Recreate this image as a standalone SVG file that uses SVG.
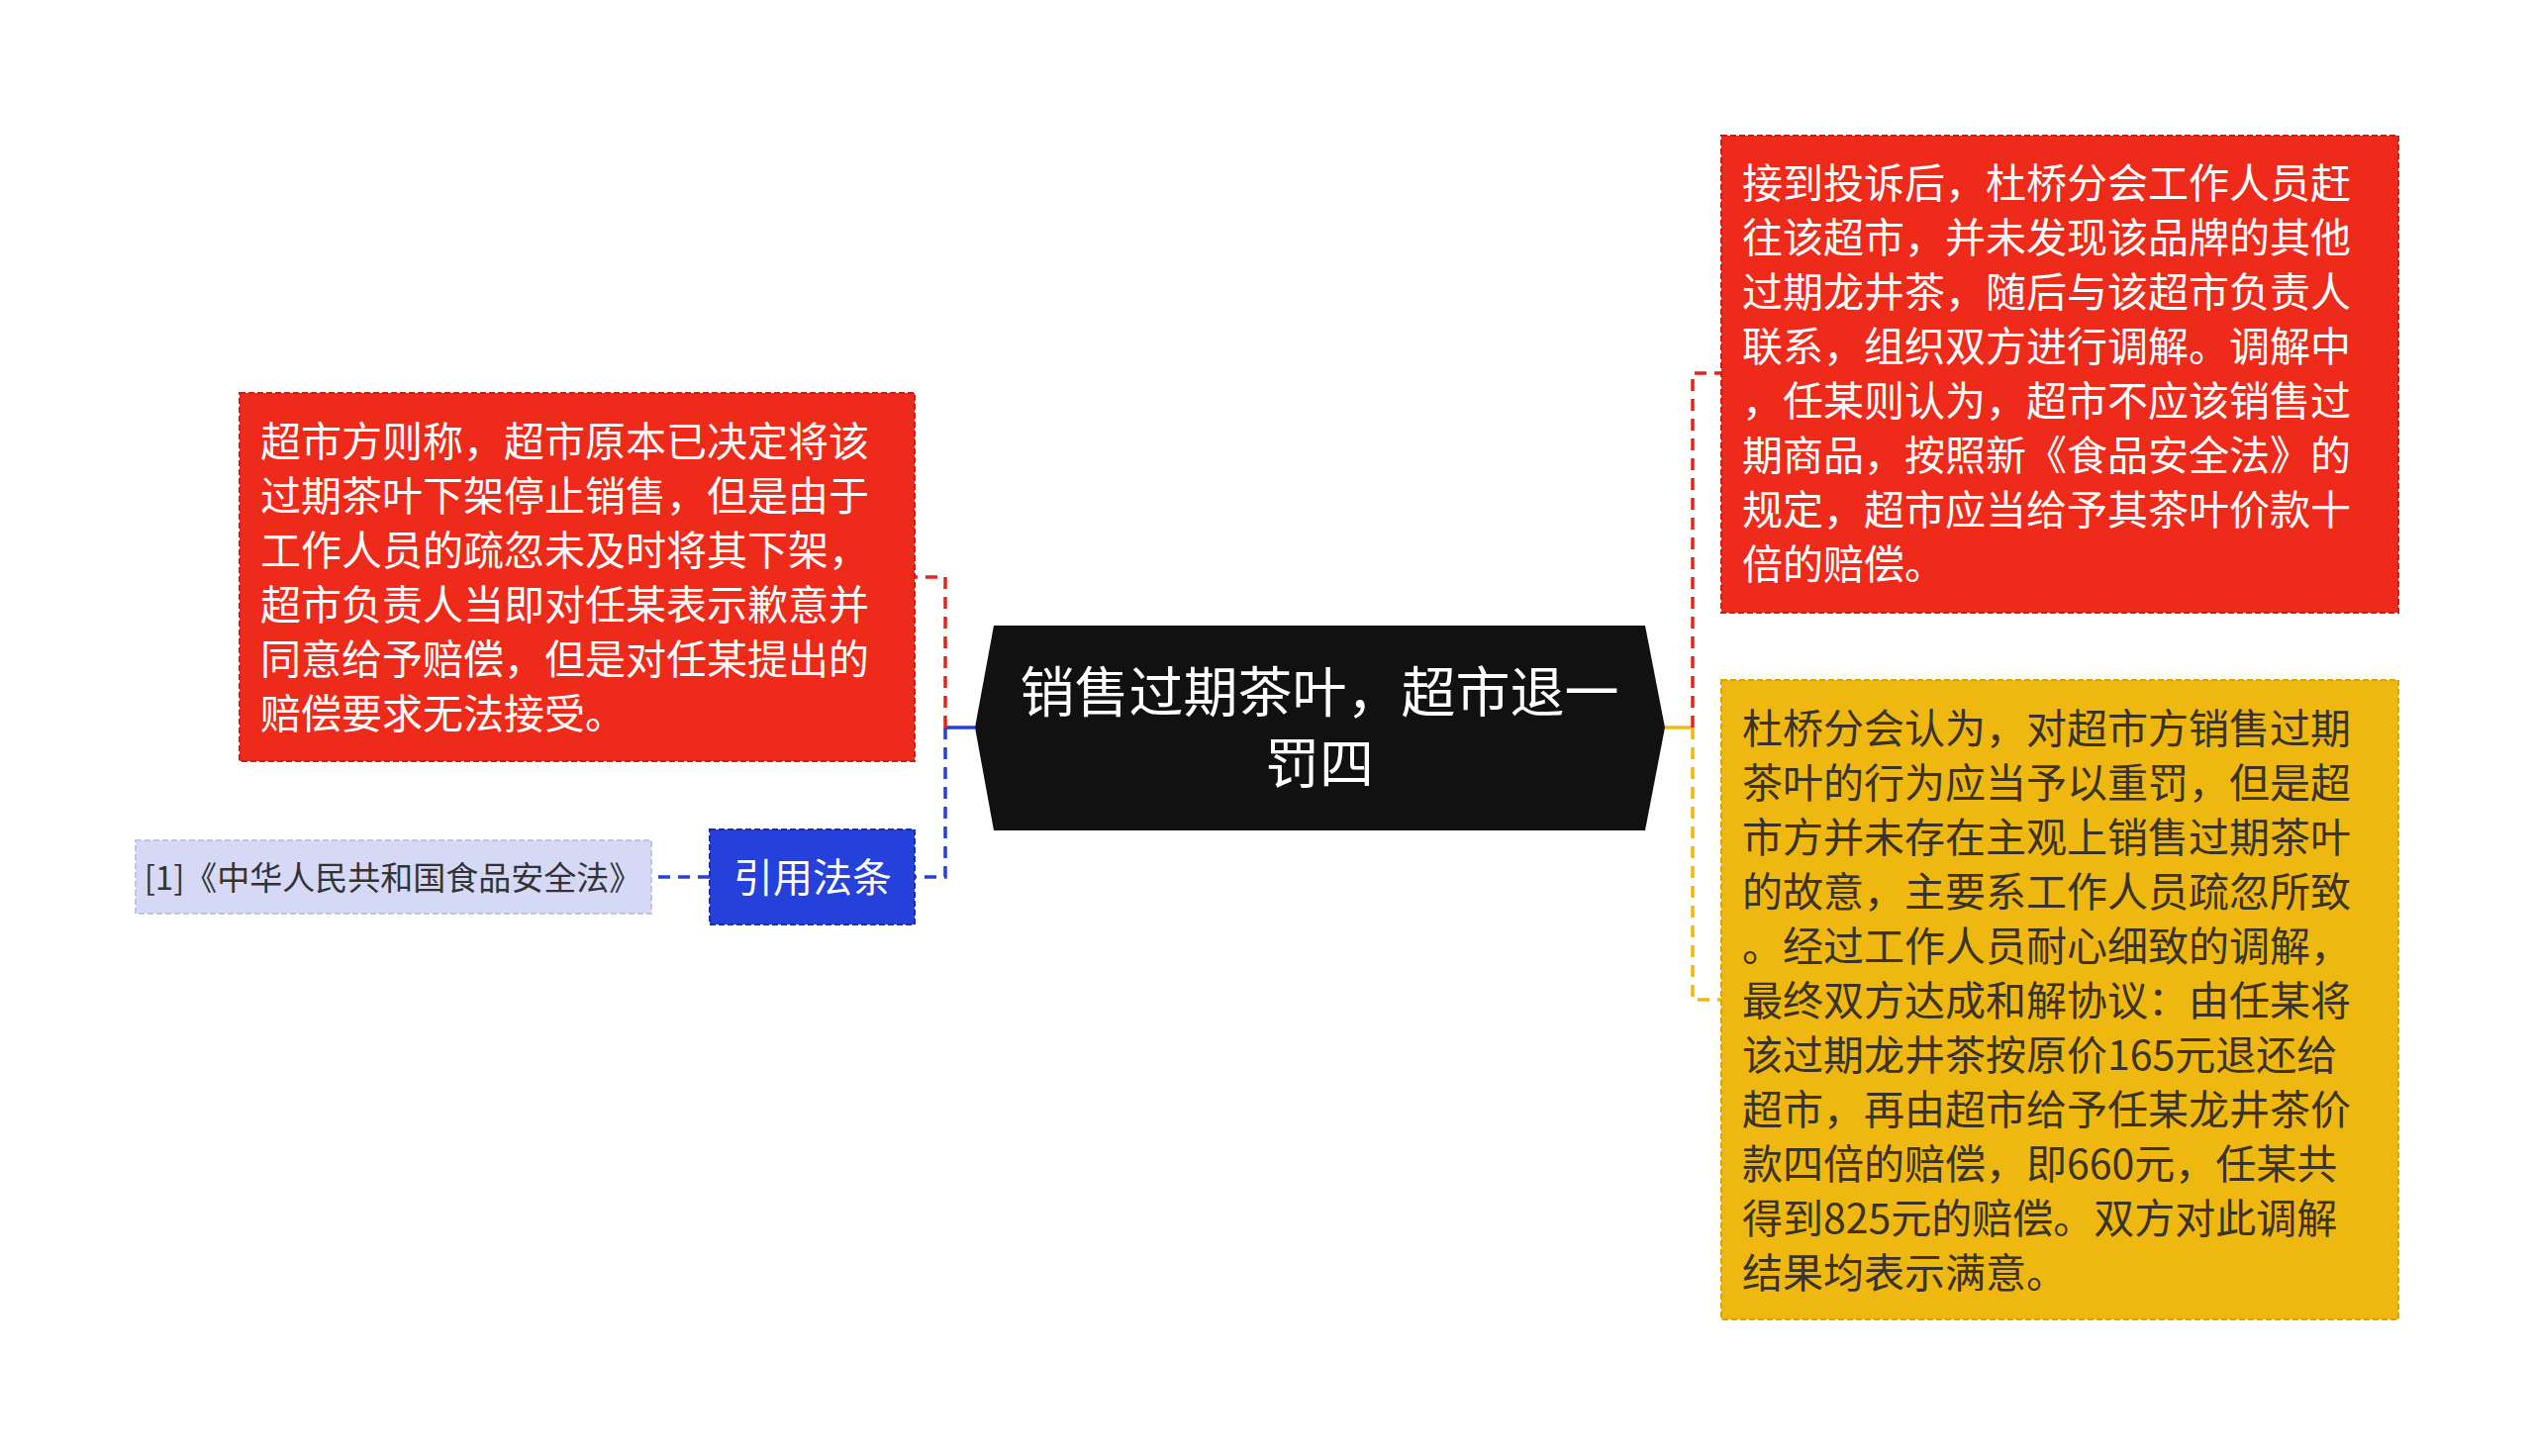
<svg xmlns="http://www.w3.org/2000/svg" width="2560" height="1471" viewBox="0 0 2560 1471">
<style>
text{font-family:"Noto Sans CJK SC","Noto Sans",sans-serif}
.t{font-size:41px;fill:#ffffff}
.ty{font-size:41px;fill:#3a3326}
.bd{stroke-width:2;stroke-dasharray:6 3}
.c{fill:none;stroke-width:3.5;stroke-dasharray:12 8}
</style>
<rect width="2560" height="1471" fill="#ffffff"/>
<g id="connectors">
<line x1="955" y1="735" x2="985" y2="735" stroke="#2541db" stroke-width="3.5"/>
<polyline class="c" stroke="#e3261a" points="955,735 955,583 924,583"/>
<polyline class="c" stroke="#2541db" points="955,735 955,886 924,886"/>
<line class="c" stroke="#2541db" x1="717" y1="886" x2="658" y2="886"/>
<line x1="1682" y1="735" x2="1710" y2="735" stroke="#efb810" stroke-width="3.5"/>
<polyline class="c" stroke="#e3261a" points="1710,735 1710,377 1739,377"/>
<polyline class="c" stroke="#efb810" points="1710,735 1710,1010 1739,1010"/>
</g>
<g id="center">
<polygon points="1004,632 1662,632 1682,735 1662,839 1004,839 985,735" fill="#111111"/>
<text font-size="55" fill="#ffffff" text-anchor="middle"><tspan x="1333" y="719">销售过期茶叶，超市退一</tspan><tspan x="1333" y="791">罚四</tspan></text>
</g>
<g id="left-red">
<rect class="bd" x="242" y="397" width="682" height="372" fill="#ee2a1b" stroke="#c91e12"/>
<text class="t" x="263" y="461">超市方则称，超市原本已决定将该</text>
<text class="t" x="263" y="516">过期茶叶下架停止销售，但是由于</text>
<text class="t" x="263" y="571">工作人员的疏忽未及时将其下架，</text>
<text class="t" x="263" y="626">超市负责人当即对任某表示歉意并</text>
<text class="t" x="263" y="681">同意给予赔偿，但是对任某提出的</text>
<text class="t" x="263" y="736">赔偿要求无法接受。</text>
</g>
<g id="cite">
<rect class="bd" x="717" y="838" width="207" height="96" fill="#2541db" stroke="#1a2fa8"/>
<text x="821" y="901" font-size="40" fill="#ffffff" text-anchor="middle">引用法条</text>
</g>
<g id="law">
<rect class="bd" x="137" y="849" width="521" height="74" fill="#d5d9f6" stroke="#c0c5e8"/>
<text x="397" y="899" font-size="33" fill="#333333" text-anchor="middle">[1]《中华人民共和国食品安全法》</text>
</g>
<g id="right-red">
<rect class="bd" x="1739" y="137" width="684" height="482" fill="#ee2a1b" stroke="#c91e12"/>
<text class="t" x="1760" y="200">接到投诉后，杜桥分会工作人员赶</text>
<text class="t" x="1760" y="255">往该超市，并未发现该品牌的其他</text>
<text class="t" x="1760" y="310">过期龙井茶，随后与该超市负责人</text>
<text class="t" x="1760" y="365">联系，组织双方进行调解。调解中</text>
<text class="t" x="1760" y="420">，任某则认为，超市不应该销售过</text>
<text class="t" x="1760" y="475">期商品，按照新《食品安全法》的</text>
<text class="t" x="1760" y="530">规定，超市应当给予其茶叶价款十</text>
<text class="t" x="1760" y="585">倍的赔偿。</text>
</g>
<g id="right-yellow">
<rect class="bd" x="1739" y="687" width="684" height="646" fill="#efb810" stroke="#d9a300"/>
<text class="ty" x="1760" y="751">杜桥分会认为，对超市方销售过期</text>
<text class="ty" x="1760" y="806">茶叶的行为应当予以重罚，但是超</text>
<text class="ty" x="1760" y="861">市方并未存在主观上销售过期茶叶</text>
<text class="ty" x="1760" y="916">的故意，主要系工作人员疏忽所致</text>
<text class="ty" x="1760" y="971">。经过工作人员耐心细致的调解，</text>
<text class="ty" x="1760" y="1026">最终双方达成和解协议：由任某将</text>
<text class="ty" x="1760" y="1081">该过期龙井茶按原价165元退还给</text>
<text class="ty" x="1760" y="1136">超市，再由超市给予任某龙井茶价</text>
<text class="ty" x="1760" y="1191">款四倍的赔偿，即660元，任某共</text>
<text class="ty" x="1760" y="1246">得到825元的赔偿。双方对此调解</text>
<text class="ty" x="1760" y="1301">结果均表示满意。</text>
</g>
</svg>
